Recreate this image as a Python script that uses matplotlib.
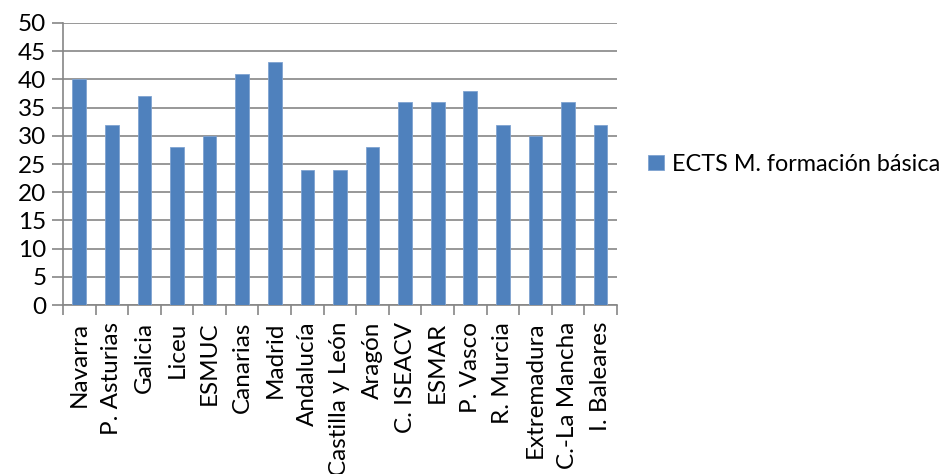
import matplotlib.pyplot as plt
import numpy as np

# datos
categorias = ['Navarra', 'P. Asturias', 'Galicia', 'Liceu', 'ESMUC', 'Canarias',
              'Madrid', 'Andalucía', 'Castilla y León', 'Aragón', 'C. ISEACV',
              'ESMAR', 'P. Vasco', 'R. Murcia', 'Extremadura', 'C.-La Mancha',
              'I. Baleares']
ects = [40, 32, 37, 28, 30, 41, 43, 24, 24, 28, 36, 36, 38, 32, 30, 36, 32]
serie = 'ECTS M. formación básica'
yticks = np.arange(0, 51, 5)

plt.rcParams['font.family'] = ['Lato', 'DejaVu Sans']
gris = '#868686'
azul = '#4F81BD'
fs = 17.5

fig = plt.figure(figsize=(9.49, 4.74), dpi=100)
ax = fig.add_axes([0.0664, 0.3565, 0.5836, 0.595])

x = np.arange(len(categorias))
ax.bar(x, ects, width=0.42, color=azul, edgecolor='#7FA3D1', linewidth=0.6,
       label=serie, zorder=3)

ax.set_xlim(-0.5, len(categorias) - 0.5)
ax.set_ylim(0, 50)
ax.set_yticks(yticks)
ax.yaxis.grid(True, color=gris, linewidth=1.2, zorder=0)

# ticks entre categorias
ax.set_xticks(np.arange(-0.5, len(categorias), 1))
ax.set_xticklabels([])
ax.set_xticks(x, minor=True)
ax.set_xticklabels(categorias, minor=True, rotation=90, fontsize=fs)
ax.tick_params(axis='x', which='minor', length=0, pad=12)
ax.tick_params(axis='x', which='major', length=7, color=gris, width=1.2)
ax.tick_params(axis='y', length=8, color=gris, width=1.2, labelsize=fs, pad=4)

for s in ['top', 'right']:
    ax.spines[s].set_visible(False)
for s in ['left', 'bottom']:
    ax.spines[s].set_color(gris)
    ax.spines[s].set_linewidth(1.2)

ax.legend(loc='center left', bbox_to_anchor=(1.057, 0.5), frameon=False,
          fontsize=16.8, handlelength=0.65, handleheight=0.65, handletextpad=0.35,
          borderaxespad=0, borderpad=0)

fig.savefig('out.png', dpi=100)
